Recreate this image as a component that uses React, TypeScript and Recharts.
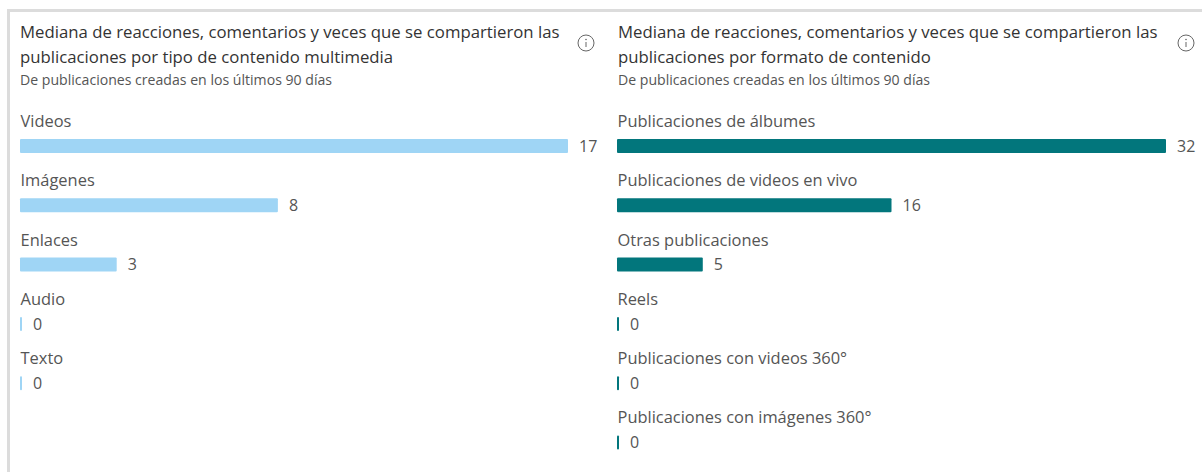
import React from 'react';
import { Bar, BarChart, LabelList, XAxis, YAxis } from 'recharts';

const mediaCategories = ['Videos', 'Imágenes', 'Enlaces', 'Audio', 'Texto'];
const mediaValues = [17, 8, 3, 0, 0];

const formatCategories = [
  'Publicaciones de álbumes',
  'Publicaciones de videos en vivo',
  'Otras publicaciones',
  'Reels',
  'Publicaciones con videos 360°',
  'Publicaciones con imágenes 360°',
];
const formatValues = [32, 16, 5, 0, 0, 0];

const subtitle = 'De publicaciones creadas en los últimos 90 días';
const FONT = '"Open Sans", "Noto Sans", sans-serif';
const ROW_HEIGHT = 59.3;
const TOP_PAD = 24;

const CategoryLabel = (props: any) => {
  const { x, y, value } = props;
  return (
    <text x={x + 0.5} y={y - 12} fill='#555' fontSize={16.45} fontFamily={FONT}>
      {value}
    </text>
  );
};

interface PanelProps {
  title: string[];
  categories: string[];
  values: number[];
  color: string;
  left: number;
  chartWidth: number;
  marginRight: number;
  textLeft: number;
  iconLeft: number;
}

const Panel = ({ title, categories, values, color, left, chartWidth, marginRight, textLeft, iconLeft }: PanelProps) => {
  const data = categories.map((name, i) => ({ name, value: values[i] }));
  return (
    <>
      <div
        style={{
          position: 'absolute',
          left: textLeft,
          top: 19,
          fontFamily: FONT,
          fontSize: 16.75,
          fontWeight: 500,
          lineHeight: '25px',
          color: '#333',
          whiteSpace: 'nowrap',
        }}
      >
        {title.map((line) => (
          <div key={line}>{line}</div>
        ))}
      </div>
      <div
        style={{
          position: 'absolute',
          left: textLeft,
          top: 71,
          fontFamily: FONT,
          fontSize: 14.1,
          lineHeight: '18px',
          color: '#555',
          whiteSpace: 'nowrap',
        }}
      >
        {subtitle}
      </div>
      <svg style={{ position: 'absolute', left: iconLeft, top: 34 }} width={18} height={18}>
        <circle cx={9} cy={9} r={8} fill='none' stroke='#666' strokeWidth={1} />
        <line x1={9} y1={8} x2={9} y2={13} stroke='#666' strokeWidth={1} />
        <circle cx={9} cy={5.5} r={0.8} fill='#666' />
      </svg>
      <div style={{ position: 'absolute', left, top: 116.35 - TOP_PAD }}>
        <BarChart
          width={chartWidth}
          height={ROW_HEIGHT * categories.length + TOP_PAD}
          data={data}
          layout='vertical'
          margin={{ top: TOP_PAD, right: marginRight, bottom: 0, left: 20 }}
        >
          <XAxis type='number' hide domain={[0, Math.max(...values)]} />
          <YAxis type='category' dataKey='name' hide />
          <Bar dataKey='value' fill={color} barSize={14} radius={1} minPointSize={2} isAnimationActive={false}>
            <LabelList dataKey='name' content={CategoryLabel} />
            <LabelList
              dataKey='value'
              position='right'
              offset={11}
              fill='#555'
              fontSize={16}
              fontFamily={FONT}
            />
          </Bar>
        </BarChart>
      </div>
    </>
  );
};

export default function App() {
  return (
    <div
      style={{
        position: 'fixed',
        left: 0,
        top: 0,
        width: 1202,
        height: 472,
        overflow: 'hidden',
        background: '#fff',
      }}
    >
      <div style={{ position: 'absolute', left: 7, top: 9, width: 1195, height: 3, background: '#dcdcdc' }} />
      <div style={{ position: 'absolute', left: 7, top: 9, width: 3, height: 463, background: '#dcdcdc' }} />
      <Panel
        title={[
          'Mediana de reacciones, comentarios y veces que se compartieron las',
          'publicaciones por tipo de contenido multimedia',
        ]}
        categories={mediaCategories}
        values={mediaValues}
        color='#9fd5f5'
        left={0}
        chartWidth={610}
        marginRight={42}
        textLeft={20}
        iconLeft={577}
      />
      <Panel
        title={[
          'Mediana de reacciones, comentarios y veces que se compartieron las',
          'publicaciones por formato de contenido',
        ]}
        categories={formatCategories}
        values={formatValues}
        color='#02767c'
        left={597}
        chartWidth={605}
        marginRight={36}
        textLeft={618}
        iconLeft={1177}
      />
    </div>
  );
}
